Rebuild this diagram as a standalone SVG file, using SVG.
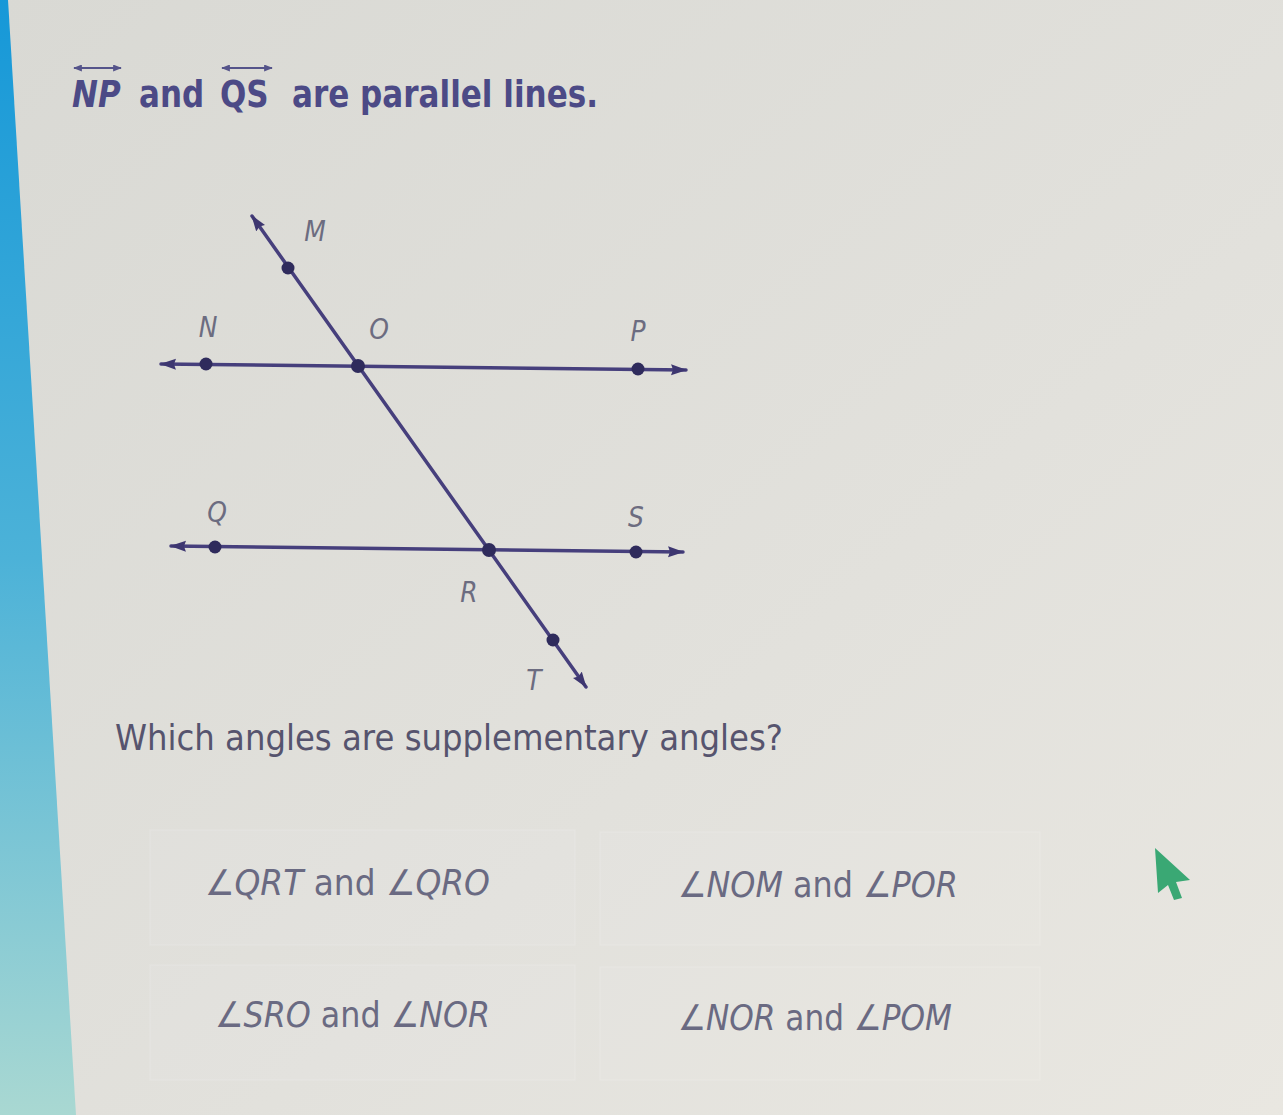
<svg xmlns="http://www.w3.org/2000/svg" width="1283" height="1115" viewBox="0 0 1283 1115">
<defs>
  <linearGradient id="bg" x1="0" y1="0" x2="1" y2="1">
    <stop offset="0" stop-color="#d9d9d4"/>
    <stop offset="0.6" stop-color="#e2e1dc"/>
    <stop offset="1" stop-color="#e9e7e1"/>
  </linearGradient>
  <linearGradient id="strip" x1="0" y1="0" x2="0" y2="1">
    <stop offset="0" stop-color="#1698d8"/>
    <stop offset="0.5" stop-color="#4cb2d8"/>
    <stop offset="1" stop-color="#a9d8d2"/>
  </linearGradient>
  <marker id="arr" viewBox="0 0 16 12" refX="15" refY="6" markerWidth="16" markerHeight="12" markerUnits="userSpaceOnUse" orient="auto-start-reverse">
    <path d="M0,0.5 L16,6 L0,11.5 L2,6 Z" fill="#3d3670"/>
  </marker>
  <marker id="tarr" viewBox="0 0 10 8" refX="9" refY="4" markerWidth="9" markerHeight="7" markerUnits="userSpaceOnUse" orient="auto-start-reverse">
    <path d="M0,0 L10,4 L0,8 Z" fill="#55548a"/>
  </marker>
</defs>
<style>
  .ln { stroke:#463f7c; stroke-width:3.5; fill:none; stroke-linecap:round; }
  .dot { fill:#2f2b5c; }
  .lbl { font-family:"DejaVu Sans","Liberation Sans",sans-serif; font-style:italic; font-size:25px; fill:#6c6c80; text-anchor:middle; }
  .title { font-family:"DejaVu Sans","Liberation Sans",sans-serif; font-weight:bold; font-size:31px; fill:#4c4a86; }
  .q { font-family:"DejaVu Sans","Liberation Sans",sans-serif; font-size:29px; fill:#56546e; }
  .ans { font-family:"DejaVu Sans","Liberation Sans",sans-serif; font-size:30px; fill:#6a6a82; }
  .it { font-style:italic; }
  .box { fill:#ffffff; fill-opacity:0.06; stroke:#ffffff; stroke-opacity:0.12; stroke-width:1.5; }
</style>

<rect x="0" y="0" width="1283" height="1115" fill="url(#bg)"/>
<polygon points="0,0 8,0 76,1115 0,1115" fill="url(#strip)"/>

<!-- title -->
<g id="title">
  <text class="title" transform="translate(72 107) scale(1 1.22)"><tspan class="it">NP</tspan></text>
  <line x1="74" y1="68" x2="121" y2="68" stroke="#55548a" stroke-width="2" marker-start="url(#tarr)" marker-end="url(#tarr)"/>
  <text class="title" transform="translate(139 107) scale(1 1.22)">and</text>
  <text class="title" transform="translate(220 107) scale(1 1.22)">QS</text>
  <line x1="222" y1="68" x2="272" y2="68" stroke="#55548a" stroke-width="2" marker-start="url(#tarr)" marker-end="url(#tarr)"/>
  <text class="title" transform="translate(292 107) scale(1 1.22)" textLength="306" lengthAdjust="spacingAndGlyphs">are parallel lines.</text>
</g>

<!-- connectors -->
<g id="connectors">
  <line class="ln" x1="161" y1="364" x2="686" y2="370" marker-start="url(#arr)" marker-end="url(#arr)"/>
  <line class="ln" x1="171" y1="546" x2="683" y2="552" marker-start="url(#arr)" marker-end="url(#arr)"/>
  <line class="ln" x1="252" y1="216" x2="586" y2="687" marker-start="url(#arr)" marker-end="url(#arr)"/>
</g>

<!-- points -->
<g id="node-M"><circle class="dot" cx="288" cy="268" r="6.5"/><text class="lbl" transform="translate(315 241) scale(1 1.15)">M</text></g>
<g id="node-N"><circle class="dot" cx="206" cy="364" r="6.5"/><text class="lbl" transform="translate(208 337) scale(1 1.15)">N</text></g>
<g id="node-O"><circle class="dot" cx="358" cy="366" r="7"/><text class="lbl" transform="translate(379 339) scale(1 1.15)">O</text></g>
<g id="node-P"><circle class="dot" cx="638" cy="369" r="6.5"/><text class="lbl" transform="translate(638 341) scale(1 1.15)">P</text></g>
<g id="node-Q"><circle class="dot" cx="215" cy="547" r="6.5"/><text class="lbl" transform="translate(217 522) scale(1 1.15)">Q</text></g>
<g id="node-R"><circle class="dot" cx="489" cy="550" r="7"/><text class="lbl" transform="translate(469 602) scale(1 1.15)">R</text></g>
<g id="node-S"><circle class="dot" cx="636" cy="552" r="6.5"/><text class="lbl" transform="translate(636 527) scale(1 1.15)">S</text></g>
<g id="node-T"><circle class="dot" cx="553" cy="640" r="6.5"/><text class="lbl" transform="translate(534 690) scale(1 1.15)">T</text></g>

<!-- question -->
<text class="q" transform="translate(115 750) scale(1 1.22)" textLength="668" lengthAdjust="spacingAndGlyphs">Which angles are supplementary angles?</text>

<!-- answer options -->
<g id="option-1">
  <rect class="box" x="150" y="830" width="425" height="115"/>
  <text class="ans" transform="translate(205 895) scale(1 1.18)" textLength="285" lengthAdjust="spacingAndGlyphs"><tspan class="it">∠QRT</tspan> and <tspan class="it">∠QRO</tspan></text>
</g>
<g id="option-2">
  <rect class="box" x="600" y="832" width="440" height="113"/>
  <text class="ans" transform="translate(678 897) scale(1 1.18)" textLength="280" lengthAdjust="spacingAndGlyphs"><tspan class="it">∠NOM</tspan> and <tspan class="it">∠POR</tspan></text>
</g>
<g id="option-3">
  <rect class="box" x="150" y="965" width="425" height="115"/>
  <text class="ans" transform="translate(215 1027) scale(1 1.18)" textLength="275" lengthAdjust="spacingAndGlyphs"><tspan class="it">∠SRO</tspan> and <tspan class="it">∠NOR</tspan></text>
</g>
<g id="option-4">
  <rect class="box" x="600" y="967" width="440" height="113"/>
  <text class="ans" transform="translate(678 1030) scale(1 1.18)" textLength="274" lengthAdjust="spacingAndGlyphs"><tspan class="it">∠NOR</tspan> and <tspan class="it">∠POM</tspan></text>
</g>

<!-- cursor -->
<polygon points="1155,848 1190,880 1176,882 1182,898 1174,900 1168,885 1158,893" fill="#3aa874"/>
</svg>
